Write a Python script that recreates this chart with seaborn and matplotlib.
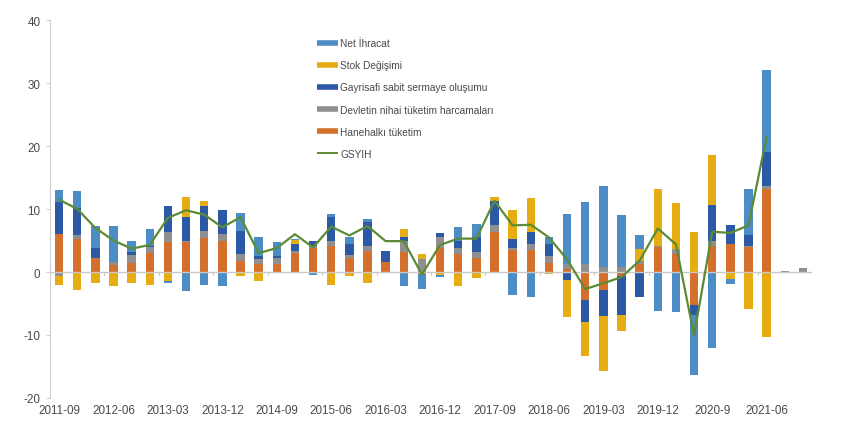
import numpy as np
import pandas as pd
import matplotlib
matplotlib.use("Agg")
import matplotlib.pyplot as plt
import seaborn as sns
from matplotlib.lines import Line2D

# ---- data (percentage-point contributions to GDP growth) ----
quarters = [f"{y}-{m}" for y in range(2011, 2022) for m in ("03", "06", "09", "12")][2:]
tick_labels = ["2011-09", "2012-06", "2013-03", "2013-12", "2014-09", "2015-06", "2016-03",
               "2016-12", "2017-09", "2018-06", "2019-03", "2019-12", "2020-9", "2021-06"]

hanehalki = [6.0, 5.3, 2.3, 1.1, 1.5, 3.0, 4.8, 4.7, 5.4, 4.9, 1.8, 1.2, 1.3, 3.0, 3.8,
             4.2, 2.2, 3.4, 1.6, 3.2, -0.3, 3.8, 2.9, 2.2, 6.3, 3.5, 3.5, 1.5, 0.4, -4.5,
             -2.9, -0.6, 1.2, 4.0, 2.8, -5.3, 4.2, 4.4, 4.0, 13.1, 0.0, 0.0]
devlet = [-0.6, 0.5, 0.0, 0.5, 1.2, 0.9, 1.5, 0.3, 1.1, 1.2, 1.0, 0.8, 1.0, 0.3, 0.3,
          0.7, 0.5, 0.8, -0.2, 1.7, 2.0, 1.8, 0.9, 0.9, 1.2, 0.3, 1.0, 1.1, 0.8, 1.3,
          0.8, 0.8, 0.5, 0.2, 0.8, 0.0, 0.8, 0.0, 0.2, 0.6, 0.1, 0.7]
gayrisafi = [5.1, 4.4, 1.5, 0.0, 0.5, 0.3, 4.2, 3.7, 3.9, 3.7, 3.7, 0.6, 0.2, 1.2, 0.8,
             3.9, 1.8, 3.7, 1.8, 0.6, 0.0, 0.6, 1.1, 2.5, 3.7, 1.5, 1.9, 1.8, -1.2, -3.5,
             -4.1, -6.2, -4.0, 0.0, 0.0, -1.6, 5.6, 3.0, 1.6, 5.4, 0.0, 0.0]
stok = [-1.4, -2.9, -1.8, -2.3, -1.7, -2.1, -1.4, 3.2, 0.8, 0.0, -0.6, -1.5, 0.0, 0.6, 0.0,
        -2.1, -0.6, -1.7, 0.0, 1.3, 0.8, -0.5, -2.3, -0.9, 0.7, 4.5, 5.3, -0.3, -5.9, -5.4,
        -8.7, -2.5, 2.0, 8.9, 7.4, 6.3, 7.9, -1.1, -5.9, -10.3, 0.0, 0.0]
net_ihracat = [1.9, 2.6, 3.5, 5.7, 1.8, 2.6, -0.3, -3.0, -2.1, -2.3, 2.8, 3.0, 2.3, 0.1, -0.4,
               0.4, 1.1, 0.5, 0.0, -2.3, -2.4, -0.3, 2.2, 2.0, 0.0, -3.7, -3.9, 1.2, 8.0, 9.8,
               12.9, 8.2, 2.2, -6.2, -6.4, -9.5, -12.0, -0.8, 7.4, 12.9, 0.0, 0.0]
gsyih = [11.5, 10.0, 7.0, 5.0, 3.7, 4.3, 8.6, 9.8, 9.1, 7.1, 8.7, 3.0, 3.8, 6.0, 3.9,
         7.2, 5.8, 7.3, 4.9, 4.9, -0.4, 4.3, 5.3, 5.3, 11.3, 7.4, 7.5, 5.5, 2.0, -2.7,
         -1.8, -0.8, 1.8, 6.9, 4.4, -10.1, 6.4, 6.2, 7.4, 21.5]

series = [
    ("Hanehalkı tüketim", hanehalki, "#D4702B"),
    ("Devletin nihai tüketim harcamaları", devlet, "#8F8F8F"),
    ("Gayrisafi sabit sermaye oluşumu", gayrisafi, "#2C59A6"),
    ("Stok Değişimi", stok, "#E5AD12"),
    ("Net İhracat", net_ihracat, "#4C8DC5"),
]
line_color = "#5B8B34"

sns.set_theme(style="white")
plt.rcParams["font.family"] = ["Liberation Sans", "DejaVu Sans"]
plt.rcParams["axes.unicode_minus"] = False

fig = plt.figure(figsize=(8.45, 4.35), dpi=100)
ax = fig.add_axes([50 / 845, 36 / 435, 762 / 845, 378 / 435])

pos_base = np.zeros(len(quarters))
neg_base = np.zeros(len(quarters))
for name, vals, col in series:
    v = np.array(vals, dtype=float)
    bottoms = np.where(v >= 0, pos_base, neg_base)
    df = pd.DataFrame({"q": quarters, "v": v})
    sns.barplot(data=df, x="q", y="v", order=quarters, color=col, width=0.47,
                errorbar=None, bottom=bottoms, ax=ax, saturation=1, linewidth=0)
    pos_base = pos_base + np.where(v > 0, v, 0)
    neg_base = neg_base + np.where(v < 0, v, 0)

ldf = pd.DataFrame({"i": np.arange(len(gsyih)), "g": gsyih})
sns.lineplot(data=ldf, x="i", y="g", color=line_color, linewidth=1.6, ax=ax, zorder=5)

ax.axhline(0, color="#C8C8C8", linewidth=1.0, zorder=1)
for k in range(2, len(quarters), 3):
    ax.plot([k + 0.5, k + 0.5], [0, -0.45], color="#C8C8C8", lw=0.8, zorder=1)

ax.set_xlim(-0.5, len(quarters) - 0.5)
ax.set_ylim(-20, 40)
ax.set_yticks(range(-20, 41, 10))
ax.set_xticks(range(0, 40, 3))
ax.set_xticklabels(tick_labels)
ax.set_xlabel("")
ax.set_ylabel("")
for s in ["top", "right", "bottom"]:
    ax.spines[s].set_visible(False)
ax.spines["left"].set_color("#D0D0D0")
ax.spines["left"].set_linewidth(0.8)
ax.tick_params(axis="x", length=0, pad=4, labelsize=8.4, colors="#4A4A4A")
ax.tick_params(axis="y", left=True, length=3, width=0.8, color="#D0D0D0", pad=4,
               labelsize=8.4, labelcolor="#4A4A4A")

handles = [Line2D([], [], color=c, lw=4, solid_capstyle="butt") for _, _, c in series[::-1]]
labels = [n for n, _, _ in series[::-1]]
handles.append(Line2D([], [], color=line_color, lw=1.4, solid_capstyle="butt"))
labels.append("GSYIH")
fig.legend(handles, labels, loc="upper left", bbox_to_anchor=(308 / 845, 1 - 30 / 435),
           frameon=False, fontsize=7.3, handlelength=2.1, handletextpad=0.2,
           labelspacing=1.2, labelcolor="#4A4A4A")

fig.savefig("out.png", dpi=100)
